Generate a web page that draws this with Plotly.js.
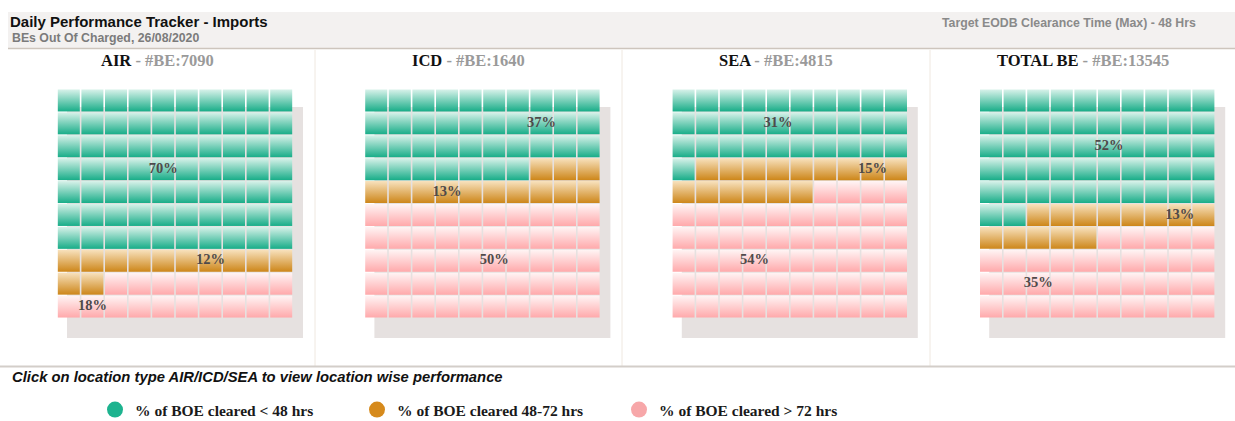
<!DOCTYPE html>
<html><head><meta charset="utf-8">
<script src="https://cdn.plot.ly/plotly-3.0.1.min.js"></script>
<style>html,body{margin:0;padding:0;background:#fff;overflow:hidden;}#chart{width:1235px;height:421px;}</style>
</head><body><div id="chart"></div>
<script>
// ---- data ----
const categories = ['AIR', 'ICD', 'SEA', 'TOTAL BE'];
const beCounts = [7090, 1640, 4815, 13545];
const pctUnder48 = [70, 37, 31, 52];
const pct48to72 = [12, 13, 15, 13];
const pctOver72 = [18, 50, 54, 35];
const seriesNames = ['% of BOE cleared < 48 hrs', '% of BOE cleared 48-72 hrs', '% of BOE cleared > 72 hrs'];
const mainTitle = 'Daily Performance Tracker - Imports';
const subTitle = 'BEs Out Of Charged, 26/08/2020';
const targetText = 'Target EODB Clearance Time (Max) - 48 Hrs';
const noteText = 'Click on location type AIR/ICD/SEA to view location wise performance';

// ---- styling ----
const W = 1235, H = 421;
const seriesTop = ['#d8f2ea', '#f8e2be', '#fff5f5'];
const seriesBottom = ['#18ad88', '#cd8619', '#ffa9ab'];
const legendColors = ['#1db38f', '#d68a1c', '#f7a7a9'];
const serif = 'Liberation Serif, Times New Roman, serif';
const sans = 'Liberation Sans, Arial, sans-serif';

const traces = [], shapes = [], annotations = [];
const layout = {
  width: W, height: H,
  margin: {l: 0, r: 0, t: 0, b: 0, autoexpand: false},
  paper_bgcolor: '#ffffff', plot_bgcolor: 'rgba(0,0,0,0)',
  showlegend: true,
  title: {text: '<b>' + mainTitle + '</b>', x: 10 / W, xanchor: 'left', y: 1 - 22 / H, yanchor: 'middle',
          font: {family: sans, size: 15, color: '#111111'}},
  legend: {orientation: 'h', x: 95 / W, xanchor: 'left', y: 1 - 410 / H, yanchor: 'middle',
           entrywidth: 217, entrywidthmode: 'pixels', bgcolor: 'rgba(0,0,0,0)',
           font: {family: serif, size: 15.5, color: '#1a1a1a'}},
  hovermode: false
};

// header band and separators
shapes.push({type: 'rect', xref: 'paper', yref: 'paper', x0: 8 / W, x1: 1, y0: 1 - 48 / H, y1: 1 - 12 / H,
             fillcolor: '#f3f1f0', line: {width: 0}, layer: 'below'});
shapes.push({type: 'line', xref: 'paper', yref: 'paper', x0: 8 / W, x1: 1, y0: 1 - 48.5 / H, y1: 1 - 48.5 / H,
             line: {color: '#cdc5bd', width: 1.5}, layer: 'below'});
[315, 622, 930].forEach(px => shapes.push({type: 'line', xref: 'paper', yref: 'paper', x0: px / W, x1: px / W,
             y0: 1 - 366 / H, y1: 1 - 50 / H, line: {color: '#efe8e0', width: 1}, layer: 'below'}));
shapes.push({type: 'line', xref: 'paper', yref: 'paper', x0: 0, x1: 1, y0: 1 - 366.5 / H, y1: 1 - 366.5 / H,
             line: {color: '#d3cec9', width: 2}, layer: 'below'});

// legend-only traces
seriesNames.forEach((name, g) => traces.push({
  type: 'scatter', mode: 'markers', x: [null], y: [null], xaxis: 'x', yaxis: 'y',
  name: '<b>' + name + '</b>', showlegend: true, hoverinfo: 'skip',
  marker: {symbol: 'circle', size: 16, color: legendColors[g]}
}));

const panelCenters = [157.5, 468.5, 776, 1082.5];
categories.forEach((cat, p) => {
  const groups = [pctUnder48[p], pct48to72[p], pctOver72[p]];
  const ax = p === 0 ? '' : String(p + 1);
  const x0 = 57 + p * 307.4, x1 = x0 + 236;
  layout['xaxis' + ax] = {domain: [x0 / W, x1 / W], range: [0.5, 10.5], visible: false, fixedrange: true};
  layout['yaxis' + ax] = {domain: [1 - 318 / H, 1 - 89 / H], range: [10.5, 0.5], visible: false, fixedrange: true};
  shapes.push({type: 'rect', xref: 'paper', yref: 'paper', x0: (x0 + 10) / W, x1: (x1 + 10) / W,
               y0: 1 - 338 / H, y1: 1 - 107 / H, fillcolor: '#e6e1e0', line: {width: 0}, layer: 'below'});
  let start = 0;
  const lx = [], ly = [], lt = [];
  groups.forEach((n, g) => {
    const xs = [], ys = [];
    for (let k = start; k < start + n; k++) { xs.push(k % 10 + 1); ys.push(Math.floor(k / 10) + 1); }
    traces.push({type: 'scatter', mode: 'markers', x: xs, y: ys, xaxis: 'x' + ax, yaxis: 'y' + ax,
      showlegend: false, hoverinfo: 'skip',
      marker: {symbol: 'square', size: 22, color: seriesTop[g], line: {width: 0},
               gradient: {type: 'vertical', color: seriesBottom[g]}}});
    const li = start + Math.floor(n / 2) - (g === 0 ? 1 : 0);
    lx.push(li % 10 + 1); ly.push(Math.floor(li / 10) + 1); lt.push(n + '%');
    start += n;
  });
  traces.push({type: 'scatter', mode: 'text', x: lx, y: ly, text: lt, xaxis: 'x' + ax, yaxis: 'y' + ax,
    showlegend: false, hoverinfo: 'skip', textposition: 'middle center',
    textfont: {family: serif, size: 14.5, color: '#4f4a4a', weight: 'bold'}});
  annotations.push({xref: 'paper', yref: 'paper', x: panelCenters[p] / W, y: 1 - 60 / H,
    xanchor: 'center', yanchor: 'middle', showarrow: false,
    text: '<b>' + cat + '<span style="color:#9a9a9a"> - #BE:' + beCounts[p] + '</span></b>',
    font: {family: serif, size: 16.5, color: '#111111'}});
});

annotations.push({xref: 'paper', yref: 'paper', x: 10 / W, y: 1 - 38 / H, xanchor: 'left', yanchor: 'middle',
  showarrow: false, text: '<b>' + subTitle + '</b>', font: {family: sans, size: 12.3, color: '#7b7b7b'}});
annotations.push({xref: 'paper', yref: 'paper', x: 1198 / W, y: 1 - 23 / H, xanchor: 'right', yanchor: 'middle',
  showarrow: false, text: '<b>' + targetText + '</b>', font: {family: sans, size: 12.3, color: '#8a8a8a'}});
annotations.push({xref: 'paper', yref: 'paper', x: 10 / W, y: 1 - 377 / H, xanchor: 'left', yanchor: 'middle',
  showarrow: false, text: '<b><i>' + noteText + '</i></b>', font: {family: sans, size: 14.8, color: '#111111'}});

layout.shapes = shapes;
layout.annotations = annotations;
Plotly.newPlot('chart', traces, layout, {staticPlot: true, displayModeBar: false});
</script>
</body></html>
